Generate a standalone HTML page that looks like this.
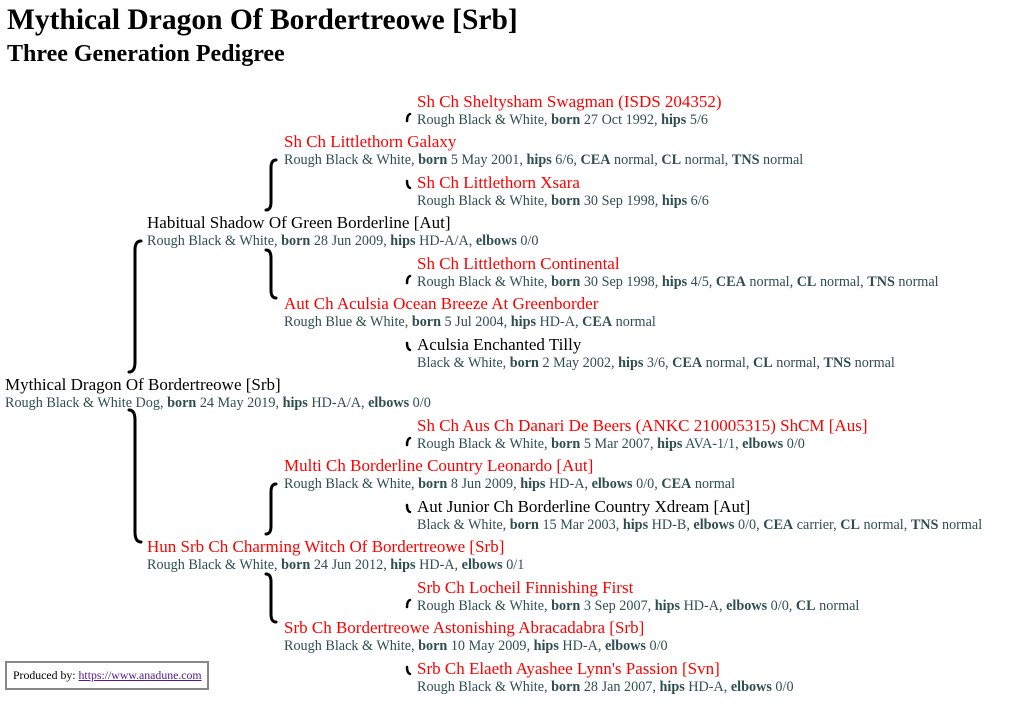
<!DOCTYPE html>
<html><head><meta charset="utf-8"><style>
body{margin:0;width:1023px;height:724px;background:#fff;font-family:"Liberation Serif",serif;position:relative;overflow:hidden}
h1{position:absolute;left:7px;top:3px;margin:0;font-size:29.5px;line-height:34px;font-weight:bold;color:#000}
h2{position:absolute;left:7px;top:40px;margin:0;font-size:24px;line-height:28px;font-weight:bold;color:#000}
.e{position:absolute;white-space:nowrap}
.n{font-size:17px;line-height:18px;color:#000}
.r{color:#f00}
.d{font-size:14.2px;line-height:19px;color:#2f4f4f}
.d b{color:#2f4f4f}
svg{position:absolute;left:0;top:0}
.foot{position:absolute;left:5px;top:661px;width:200px;height:25px;border:2px solid #888;font-size:11.8px;line-height:25px;box-sizing:content-box}
.foot span{margin-left:6px}
.foot a{color:#551a8b}
</style></head><body>
<h1>Mythical Dragon Of Bordertreowe [Srb]</h1>
<h2>Three Generation Pedigree</h2>
<svg width="1023" height="724" fill="none" stroke="#000" stroke-width="3" stroke-linecap="round">
<path d="M141,241 Q135,241 135,250 L135,362 Q135,372 129,372"/>
<path d="M129,410 Q135,410 135,420 L135,532 Q135,542 141,542"/>
<path d="M276,160 Q271,160 271,168 L271,202 Q271,210 266,210"/>
<path d="M266,250 Q271,250 271,258 L271,290 Q271,298 276,298"/>
<path d="M276,484 Q271,484 271,492 L271,526 Q271,534 266,534"/>
<path d="M266,574 Q271,574 271,582 L271,614 Q271,622 276,622"/>
<g stroke-width="2.5">
<path d="M410,114 Q407,115 407,121"/>
<path d="M407,181 Q407,187 410,188"/>
<path d="M410,276 Q407,277 407,283"/>
<path d="M407,343 Q407,349 410,350"/>
<path d="M410,438 Q407,439 407,445"/>
<path d="M407,505 Q407,511 410,512"/>
<path d="M410,600 Q407,601 407,607"/>
<path d="M407,667 Q407,673 410,674"/>
</g>
</svg>

<div class="e" style="left:417px;top:93px"><div class="n r">Sh Ch Sheltysham Swagman (ISDS 204352)</div><div class="d">Rough Black &amp; White, <b>born</b> 27 Oct 1992, <b>hips</b> 5/6</div></div>
<div class="e" style="left:284px;top:133px"><div class="n r">Sh Ch Littlethorn Galaxy</div><div class="d">Rough Black &amp; White, <b>born</b> 5 May 2001, <b>hips</b> 6/6, <b>CEA</b> normal, <b>CL</b> normal, <b>TNS</b> normal</div></div>
<div class="e" style="left:417px;top:174px"><div class="n r">Sh Ch Littlethorn Xsara</div><div class="d">Rough Black &amp; White, <b>born</b> 30 Sep 1998, <b>hips</b> 6/6</div></div>
<div class="e" style="left:147px;top:214px"><div class="n">Habitual Shadow Of Green Borderline [Aut]</div><div class="d">Rough Black &amp; White, <b>born</b> 28 Jun 2009, <b>hips</b> HD-A/A, <b>elbows</b> 0/0</div></div>
<div class="e" style="left:417px;top:255px"><div class="n r">Sh Ch Littlethorn Continental</div><div class="d">Rough Black &amp; White, <b>born</b> 30 Sep 1998, <b>hips</b> 4/5, <b>CEA</b> normal, <b>CL</b> normal, <b>TNS</b> normal</div></div>
<div class="e" style="left:284px;top:295px"><div class="n r">Aut Ch Aculsia Ocean Breeze At Greenborder</div><div class="d">Rough Blue &amp; White, <b>born</b> 5 Jul 2004, <b>hips</b> HD-A, <b>CEA</b> normal</div></div>
<div class="e" style="left:417px;top:336px"><div class="n">Aculsia Enchanted Tilly</div><div class="d">Black &amp; White, <b>born</b> 2 May 2002, <b>hips</b> 3/6, <b>CEA</b> normal, <b>CL</b> normal, <b>TNS</b> normal</div></div>
<div class="e" style="left:5px;top:376px"><div class="n">Mythical Dragon Of Bordertreowe [Srb]</div><div class="d">Rough Black &amp; White Dog, <b>born</b> 24 May 2019, <b>hips</b> HD-A/A, <b>elbows</b> 0/0</div></div>
<div class="e" style="left:417px;top:417px"><div class="n r">Sh Ch Aus Ch Danari De Beers (ANKC 210005315) ShCM [Aus]</div><div class="d">Rough Black &amp; White, <b>born</b> 5 Mar 2007, <b>hips</b> AVA-1/1, <b>elbows</b> 0/0</div></div>
<div class="e" style="left:284px;top:457px"><div class="n r">Multi Ch Borderline Country Leonardo [Aut]</div><div class="d">Rough Black &amp; White, <b>born</b> 8 Jun 2009, <b>hips</b> HD-A, <b>elbows</b> 0/0, <b>CEA</b> normal</div></div>
<div class="e" style="left:417px;top:498px"><div class="n">Aut Junior Ch Borderline Country Xdream [Aut]</div><div class="d">Black &amp; White, <b>born</b> 15 Mar 2003, <b>hips</b> HD-B, <b>elbows</b> 0/0, <b>CEA</b> carrier, <b>CL</b> normal, <b>TNS</b> normal</div></div>
<div class="e" style="left:147px;top:538px"><div class="n r">Hun Srb Ch Charming Witch Of Bordertreowe [Srb]</div><div class="d">Rough Black &amp; White, <b>born</b> 24 Jun 2012, <b>hips</b> HD-A, <b>elbows</b> 0/1</div></div>
<div class="e" style="left:417px;top:579px"><div class="n r">Srb Ch Locheil Finnishing First</div><div class="d">Rough Black &amp; White, <b>born</b> 3 Sep 2007, <b>hips</b> HD-A, <b>elbows</b> 0/0, <b>CL</b> normal</div></div>
<div class="e" style="left:284px;top:619px"><div class="n r">Srb Ch Bordertreowe Astonishing Abracadabra [Srb]</div><div class="d">Rough Black &amp; White, <b>born</b> 10 May 2009, <b>hips</b> HD-A, <b>elbows</b> 0/0</div></div>
<div class="e" style="left:417px;top:660px"><div class="n r">Srb Ch Elaeth Ayashee Lynn's Passion [Svn]</div><div class="d">Rough Black &amp; White, <b>born</b> 28 Jan 2007, <b>hips</b> HD-A, <b>elbows</b> 0/0</div></div>

<div class="foot"><span>Produced by: <a href="#">https://www.anadune.com</a></span></div>
</body></html>
